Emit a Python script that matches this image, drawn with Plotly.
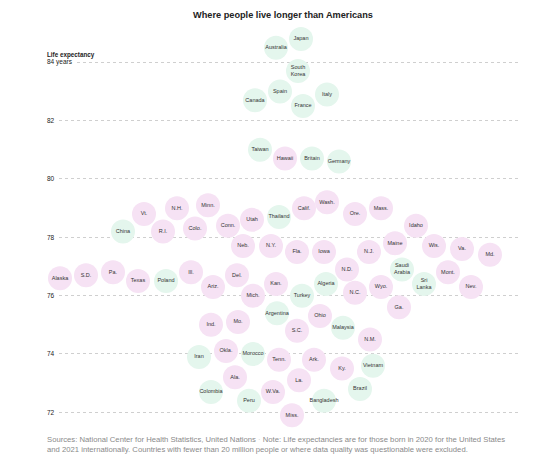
import plotly.graph_objects as go

# countries (green) and U.S. states (pink)
country_names = ["Japan", "Australia", "South<br>Korea", "Spain", "Canada", "Italy", "France",
                 "Taiwan", "Britain", "Germany", "China", "Thailand", "Saudi<br>Arabia",
                 "Sri<br>Lanka", "Algeria", "Turkey", "Poland", "Argentina", "Malaysia",
                 "Iran", "Morocco", "Vietnam", "Colombia", "Brazil", "Peru", "Bangladesh"]
country_life = [84.8, 84.5, 83.7, 83.0, 82.7, 82.9, 82.5, 81.0, 80.7, 80.6, 78.2, 78.7, 76.9,
                76.4, 76.4, 76.0, 76.5, 75.4, 74.9, 73.9, 74.0, 73.6, 72.7, 72.8, 72.4, 72.4]
country_swarm_x = [301, 276, 298, 280, 255, 327, 303, 260, 312, 339, 123, 279, 402,
                   424, 326, 302, 166, 277, 343, 199, 253, 373, 211, 360, 249, 324]

state_names = ["Hawaii", "Vt.", "N.H.", "Minn.", "R.I.", "Colo.", "Conn.", "Utah", "Calif.",
               "Wash.", "Ore.", "Mass.", "Idaho", "Neb.", "N.Y.", "Fla.", "Iowa", "N.J.",
               "Maine", "Wis.", "Va.", "Md.", "N.D.", "Mont.", "Nev.", "Wyo.", "N.C.", "Kan.",
               "Alaska", "S.D.", "Pa.", "Texas", "Ill.", "Ariz.", "Del.", "Mich.", "Ga.",
               "Ohio", "S.C.", "N.M.", "Ind.", "Mo.", "Okla.", "Tenn.", "Ark.", "Ky.", "Ala.",
               "La.", "W.Va.", "Miss."]
state_life = [80.7, 78.8, 79.0, 79.1, 78.2, 78.3, 78.4, 78.6, 79.0, 79.2, 78.8, 79.0, 78.4,
              77.7, 77.7, 77.5, 77.5, 77.5, 77.8, 77.7, 77.6, 77.4, 76.9, 76.8, 76.3, 76.3,
              76.1, 76.4, 76.6, 76.7, 76.8, 76.5, 76.8, 76.3, 76.7, 76.0, 75.6, 75.3, 74.8,
              74.5, 75.0, 75.1, 74.1, 73.8, 73.8, 73.5, 73.2, 73.1, 72.7, 71.9]
state_swarm_x = [285, 144, 177, 208, 163, 195, 228, 252, 304, 327, 355, 381, 416, 243, 271,
                 297, 324, 369, 395, 434, 462, 490, 347, 448, 471, 381, 355, 276, 60, 86, 113,
                 138, 191, 213, 237, 253, 399, 320, 297, 370, 211, 238, 226, 279, 314, 342,
                 235, 299, 273, 292]

tick_vals = [72, 74, 76, 78, 80, 82, 84]
tick_text = ["72", "74", "76", "78", "80", "82", "84 years"]

FONT = "Liberation Sans, Arial, sans-serif"
GREEN = "#e4f6ed"
PINK = "#f6e2f4"

fig = go.Figure()
for nombres, vida, xs, color in [(country_names, country_life, country_swarm_x, GREEN),
                                 (state_names, state_life, state_swarm_x, PINK)]:
    fig.add_trace(go.Scatter(
        x=xs, y=vida, text=nombres, mode="markers+text",
        marker=dict(size=24, color=color, line=dict(width=0)),
        textposition="middle center",
        textfont=dict(family=FONT, size=5.5, color="#333"),
        hoverinfo="text+y", showlegend=False, cliponaxis=False
    ))

fig.update_layout(
    width=546, height=464, margin=dict(l=47, r=27, t=0, b=0),
    paper_bgcolor="white", plot_bgcolor="white",
    title=dict(text="<b>Where people live longer than Americans</b>",
               x=283 / 546, xanchor="center", xref="container",
               y=1 - 15 / 464, yanchor="middle", yref="container",
               font=dict(family=FONT, size=9.2, color="#222")),
    xaxis=dict(range=[47, 519], visible=False, fixedrange=True),
    yaxis=dict(range=[70.228, 86.136], tickvals=tick_vals, showticklabels=False,
               showgrid=True, gridcolor="#cfcfcf", griddash="dot", gridwidth=1,
               zeroline=False, showline=False, ticks="", fixedrange=True),
)

for v, t in zip(tick_vals, tick_text):
    fig.add_annotation(x=0, xref="paper", xanchor="left", y=v, yref="y", yanchor="middle",
                       text=t, showarrow=False, bgcolor="white", borderpad=1, xshift=-2,
                       font=dict(family=FONT, size=6.5, color="#222"))
fig.add_annotation(x=0, xref="paper", xanchor="left", y=84, yref="y", yanchor="middle",
                   yshift=7, text="<b>Life expectancy</b>", showarrow=False, xshift=-2,
                   font=dict(family=FONT, size=6.3, color="#222"))

nota = ("Sources: National Center for Health Statistics, United Nations "
        "<span style='color:#ccc'>·</span> Note: Life expectancies are for those born in 2020 "
        "for the United States<br>and 2021 internationally. Countries with fewer than 20 million "
        "people or where data quality was questionable were excluded.")
fig.add_annotation(x=0, xref="paper", xanchor="left", xshift=-2, y=20 / 464, yref="paper",
                   yanchor="middle", text=nota, showarrow=False, align="left",
                   font=dict(family=FONT, size=7.7, color="#8a8a8a"))

# sin margen del body para que la figura quede en (0,0)
fig.write_html("out.html", config={"displayModeBar": False},
               post_script="document.body.style.margin='0';")
